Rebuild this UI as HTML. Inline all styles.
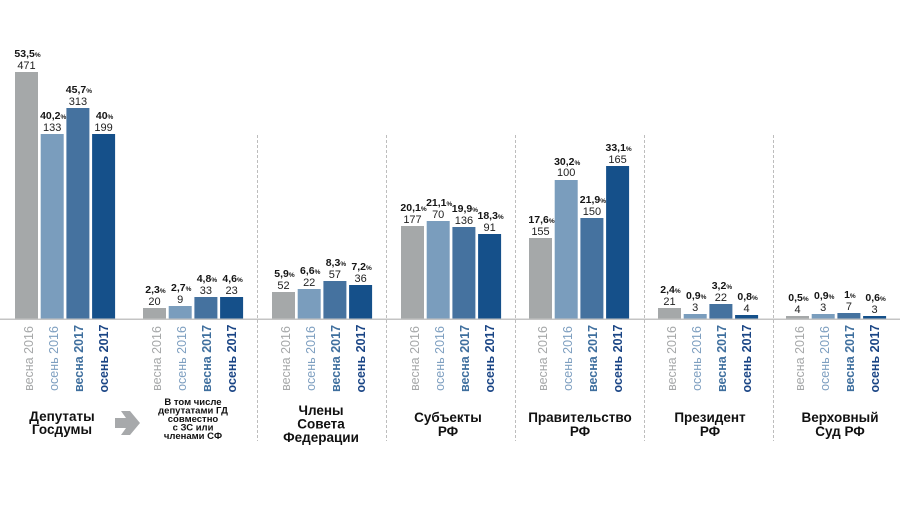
<!DOCTYPE html>
<html>
<head>
<meta charset="utf-8">
<style>
html,body{margin:0;padding:0;background:#fff;}
svg{display:block;}
.p{font-family:"Liberation Sans",sans-serif;font-weight:bold;font-size:10.5px;fill:#151515;text-anchor:middle;}
.s{font-size:6.5px;}
.n{font-family:"Liberation Sans",sans-serif;font-size:11px;fill:#222;text-anchor:middle;}
.r{font-family:"Liberation Sans",sans-serif;font-size:12.5px;text-anchor:middle;}
.c1{fill:#a6a8a9;}
.c2{fill:#7e9fc0;}
.c3{fill:#3f6f9e;font-weight:bold;}
.c4{fill:#1a4585;font-weight:bold;}
.cat{font-family:"Liberation Sans",sans-serif;font-weight:bold;font-size:13.5px;fill:#111;text-anchor:middle;}
.sm{font-family:"Liberation Sans",sans-serif;font-weight:bold;font-size:9.5px;fill:#111;text-anchor:middle;}
</style>
</head>
<body>
<svg width="900" height="507" viewBox="0 0 900 507" xmlns="http://www.w3.org/2000/svg">
<rect width="900" height="507" fill="#fff"/>
<!-- separators -->
<g stroke="#bdbdbd" stroke-width="1" stroke-dasharray="3 2">
<line x1="257.5" y1="135" x2="257.5" y2="441"/>
<line x1="386.5" y1="135" x2="386.5" y2="441"/>
<line x1="515.5" y1="135" x2="515.5" y2="441"/>
<line x1="644.5" y1="135" x2="644.5" y2="441"/>
<line x1="773.5" y1="135" x2="773.5" y2="441"/>
</g>
<!-- bars -->
<g>
<rect x="15" y="72" width="23" height="246.5" fill="#a5a8a9"/>
<rect x="40.7" y="134" width="23" height="184.5" fill="#7a9dbd"/>
<rect x="66.4" y="108" width="23" height="210.5" fill="#45729f"/>
<rect x="92.1" y="134" width="23" height="184.5" fill="#15508a"/>

<rect x="143" y="308" width="23" height="10.5" fill="#a5a8a9"/>
<rect x="168.7" y="306" width="23" height="12.5" fill="#7a9dbd"/>
<rect x="194.4" y="297" width="23" height="21.5" fill="#45729f"/>
<rect x="220.1" y="297" width="23" height="21.5" fill="#15508a"/>

<rect x="272" y="292" width="23" height="26.5" fill="#a5a8a9"/>
<rect x="297.7" y="289" width="23" height="29.5" fill="#7a9dbd"/>
<rect x="323.4" y="281" width="23" height="37.5" fill="#45729f"/>
<rect x="349.1" y="285" width="23" height="33.5" fill="#15508a"/>

<rect x="401" y="226" width="23" height="92.5" fill="#a5a8a9"/>
<rect x="426.7" y="221" width="23" height="97.5" fill="#7a9dbd"/>
<rect x="452.4" y="227" width="23" height="91.5" fill="#45729f"/>
<rect x="478.1" y="234" width="23" height="84.5" fill="#15508a"/>

<rect x="529" y="238" width="23" height="80.5" fill="#a5a8a9"/>
<rect x="554.7" y="180" width="23" height="138.5" fill="#7a9dbd"/>
<rect x="580.4" y="218" width="23" height="100.5" fill="#45729f"/>
<rect x="606.1" y="166" width="23" height="152.5" fill="#15508a"/>

<rect x="658" y="308" width="23" height="10.5" fill="#a5a8a9"/>
<rect x="683.7" y="314" width="23" height="4.5" fill="#7a9dbd"/>
<rect x="709.4" y="304" width="23" height="14.5" fill="#45729f"/>
<rect x="735.1" y="315" width="23" height="3.5" fill="#15508a"/>

<rect x="786" y="316" width="23" height="2.5" fill="#a5a8a9"/>
<rect x="811.7" y="314" width="23" height="4.5" fill="#7a9dbd"/>
<rect x="837.4" y="313" width="23" height="5.5" fill="#45729f"/>
<rect x="863.1" y="316" width="23" height="2.5" fill="#15508a"/>
</g>
<!-- baseline -->
<line x1="0" y1="319.3" x2="900" y2="319.3" stroke="#c4c4c4" stroke-width="1.5"/>

<!-- value labels -->
<g>
<text class="p" x="27.5" y="57">53,5<tspan class="s">%</tspan></text><text class="n" x="26.5" y="69">471</text>
<text class="p" x="53.2" y="119">40,2<tspan class="s">%</tspan></text><text class="n" x="52.2" y="131">133</text>
<text class="p" x="78.9" y="93">45,7<tspan class="s">%</tspan></text><text class="n" x="77.9" y="105">313</text>
<text class="p" x="104.6" y="119">40<tspan class="s">%</tspan></text><text class="n" x="103.6" y="131">199</text>

<text class="p" x="155.5" y="293">2,3<tspan class="s">%</tspan></text><text class="n" x="154.5" y="305">20</text>
<text class="p" x="181.2" y="291">2,7<tspan class="s">%</tspan></text><text class="n" x="180.2" y="303">9</text>
<text class="p" x="206.9" y="282">4,8<tspan class="s">%</tspan></text><text class="n" x="205.9" y="294">33</text>
<text class="p" x="232.6" y="282">4,6<tspan class="s">%</tspan></text><text class="n" x="231.6" y="294">23</text>

<text class="p" x="284.5" y="277">5,9<tspan class="s">%</tspan></text><text class="n" x="283.5" y="289">52</text>
<text class="p" x="310.2" y="274">6,6<tspan class="s">%</tspan></text><text class="n" x="309.2" y="286">22</text>
<text class="p" x="335.9" y="266">8,3<tspan class="s">%</tspan></text><text class="n" x="334.9" y="278">57</text>
<text class="p" x="361.6" y="270">7,2<tspan class="s">%</tspan></text><text class="n" x="360.6" y="282">36</text>

<text class="p" x="413.5" y="211">20,1<tspan class="s">%</tspan></text><text class="n" x="412.5" y="223">177</text>
<text class="p" x="439.2" y="206">21,1<tspan class="s">%</tspan></text><text class="n" x="438.2" y="218">70</text>
<text class="p" x="464.9" y="212">19,9<tspan class="s">%</tspan></text><text class="n" x="463.9" y="224">136</text>
<text class="p" x="490.6" y="219">18,3<tspan class="s">%</tspan></text><text class="n" x="489.6" y="231">91</text>

<text class="p" x="541.5" y="223">17,6<tspan class="s">%</tspan></text><text class="n" x="540.5" y="235">155</text>
<text class="p" x="567.2" y="165">30,2<tspan class="s">%</tspan></text><text class="n" x="566.2" y="176">100</text>
<text class="p" x="592.9" y="203">21,9<tspan class="s">%</tspan></text><text class="n" x="591.9" y="215">150</text>
<text class="p" x="618.6" y="151">33,1<tspan class="s">%</tspan></text><text class="n" x="617.6" y="163">165</text>

<text class="p" x="670.5" y="293">2,4<tspan class="s">%</tspan></text><text class="n" x="669.5" y="305">21</text>
<text class="p" x="696.2" y="299">0,9<tspan class="s">%</tspan></text><text class="n" x="695.2" y="311">3</text>
<text class="p" x="721.9" y="289">3,2<tspan class="s">%</tspan></text><text class="n" x="720.9" y="301">22</text>
<text class="p" x="747.6" y="300">0,8<tspan class="s">%</tspan></text><text class="n" x="746.6" y="312">4</text>

<text class="p" x="798.5" y="301">0,5<tspan class="s">%</tspan></text><text class="n" x="797.5" y="313">4</text>
<text class="p" x="824.2" y="299">0,9<tspan class="s">%</tspan></text><text class="n" x="823.2" y="311">3</text>
<text class="p" x="849.9" y="298">1<tspan class="s">%</tspan></text><text class="n" x="848.9" y="310">7</text>
<text class="p" x="875.6" y="301">0,6<tspan class="s">%</tspan></text><text class="n" x="874.6" y="313">3</text>
</g>

<!-- rotated period labels -->
<g>
<text class="r c1" transform="translate(33,358.5) rotate(-90)">весна 2016</text>
<text class="r c2" transform="translate(58.2,358.5) rotate(-90)">осень 2016</text>
<text class="r c3" transform="translate(82.9,358.5) rotate(-90)">весна 2017</text>
<text class="r c4" transform="translate(108.1,358.5) rotate(-90)">осень 2017</text>

<text class="r c1" transform="translate(161,358.5) rotate(-90)">весна 2016</text>
<text class="r c2" transform="translate(186.2,358.5) rotate(-90)">осень 2016</text>
<text class="r c3" transform="translate(210.9,358.5) rotate(-90)">весна 2017</text>
<text class="r c4" transform="translate(236.1,358.5) rotate(-90)">осень 2017</text>

<text class="r c1" transform="translate(290,358.5) rotate(-90)">весна 2016</text>
<text class="r c2" transform="translate(315.2,358.5) rotate(-90)">осень 2016</text>
<text class="r c3" transform="translate(339.9,358.5) rotate(-90)">весна 2017</text>
<text class="r c4" transform="translate(365.1,358.5) rotate(-90)">осень 2017</text>

<text class="r c1" transform="translate(419,358.5) rotate(-90)">весна 2016</text>
<text class="r c2" transform="translate(444.2,358.5) rotate(-90)">осень 2016</text>
<text class="r c3" transform="translate(468.9,358.5) rotate(-90)">весна 2017</text>
<text class="r c4" transform="translate(494.1,358.5) rotate(-90)">осень 2017</text>

<text class="r c1" transform="translate(547,358.5) rotate(-90)">весна 2016</text>
<text class="r c2" transform="translate(572.2,358.5) rotate(-90)">осень 2016</text>
<text class="r c3" transform="translate(596.9,358.5) rotate(-90)">весна 2017</text>
<text class="r c4" transform="translate(622.1,358.5) rotate(-90)">осень 2017</text>

<text class="r c1" transform="translate(676,358.5) rotate(-90)">весна 2016</text>
<text class="r c2" transform="translate(701.2,358.5) rotate(-90)">осень 2016</text>
<text class="r c3" transform="translate(725.9,358.5) rotate(-90)">весна 2017</text>
<text class="r c4" transform="translate(751.1,358.5) rotate(-90)">осень 2017</text>

<text class="r c1" transform="translate(804,358.5) rotate(-90)">весна 2016</text>
<text class="r c2" transform="translate(829.2,358.5) rotate(-90)">осень 2016</text>
<text class="r c3" transform="translate(853.9,358.5) rotate(-90)">весна 2017</text>
<text class="r c4" transform="translate(879.1,358.5) rotate(-90)">осень 2017</text>
</g>

<!-- category labels -->
<text class="cat" x="62" y="421">Депутаты</text>
<text class="cat" x="62" y="434">Госдумы</text>

<polygon points="115,418 126,418 121,411 130,411 140,423 130,435 121,435 126,428 115,428" fill="#a7a9ab"/>

<text class="sm" x="193" y="405">В том числе</text>
<text class="sm" x="193" y="413.5">депутатами ГД</text>
<text class="sm" x="193" y="422">совместно</text>
<text class="sm" x="193" y="430.5">с ЗС или</text>
<text class="sm" x="193" y="439">членами СФ</text>

<text class="cat" x="321" y="415">Члены</text>
<text class="cat" x="321" y="428.5">Совета</text>
<text class="cat" x="321" y="442">Федерации</text>

<text class="cat" x="448" y="422">Субъекты</text>
<text class="cat" x="448" y="436">РФ</text>

<text class="cat" x="580" y="422">Правительство</text>
<text class="cat" x="580" y="436">РФ</text>

<text class="cat" x="710" y="422">Президент</text>
<text class="cat" x="710" y="436">РФ</text>

<text class="cat" x="840" y="422">Верховный</text>
<text class="cat" x="840" y="436">Суд РФ</text>
</svg>
</body>
</html>
